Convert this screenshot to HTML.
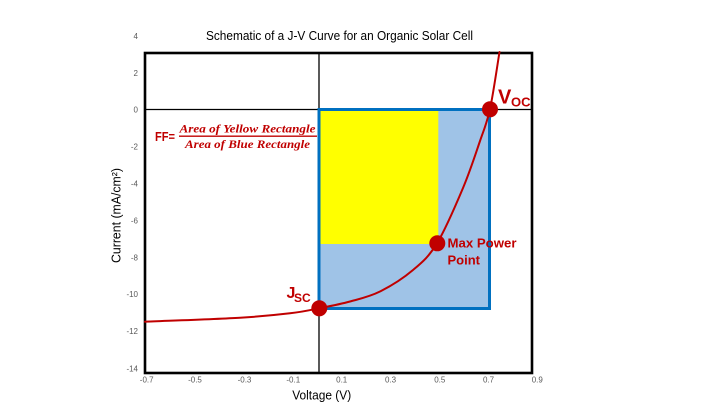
<!DOCTYPE html>
<html><head><meta charset="utf-8"><style>
html,body{margin:0;padding:0;background:#fff;}
svg{display:block;}
</style></head><body>
<svg width="720" height="405" viewBox="0 0 720 405" xmlns="http://www.w3.org/2000/svg">
<rect width="720" height="405" fill="#fff"/>
<!-- title -->
<text x="339.5" y="40" font-family="Liberation Sans, sans-serif" font-size="13" text-anchor="middle" textLength="267" lengthAdjust="spacingAndGlyphs" fill="#000">Schematic of a J-V Curve for an Organic Solar Cell</text>
<!-- axes lines -->
<line x1="145" y1="109.5" x2="532" y2="109.5" stroke="#000" stroke-width="1.3"/>
<line x1="319" y1="53" x2="319" y2="373" stroke="#000" stroke-width="1.3"/>
<!-- rectangles -->
<rect x="319" y="109.5" width="170.5" height="199" fill="#9FC3E7"/>
<rect x="320.5" y="111" width="117.8" height="133" fill="#FFFF00"/>
<rect x="319" y="109.5" width="170.5" height="199" fill="none" stroke="#0070C0" stroke-width="3"/>
<!-- plot box -->
<rect x="145" y="53" width="387" height="320" fill="none" stroke="#000" stroke-width="2.6"/>
<!-- curve -->
<path d="M145,321.7 C160.8,321.0 215.8,319.1 240,317.7 C264.2,316.3 276.8,314.87 290,313.3 C303.2,311.73 309,310.27 319,308.3 C329,306.33 339.83,304.3 350,301.5 C360.17,298.7 369.5,296.75 380,291.5 C390.5,286.25 403.5,278.03 413,270 C422.5,261.97 428.67,256.97 437,243.3 C445.33,229.63 455.83,205.05 463,188 C470.17,170.95 475.5,154.17 480,141 C484.5,127.83 486.75,123.83 490,109 C493.25,94.17 497.9,61.5 499.5,52" fill="none" stroke="#C00000" stroke-width="2" stroke-linejoin="round" stroke-linecap="round"/>
<!-- dots -->
<circle cx="319.3" cy="308.3" r="8" fill="#C00000"/>
<circle cx="437.3" cy="243.3" r="8" fill="#C00000"/>
<circle cx="490" cy="109.3" r="8" fill="#C00000"/>
<!-- labels -->
<g font-family="Liberation Sans, sans-serif" font-weight="bold" fill="#C00000">
<text x="498" y="103.5" font-size="20">V</text>
<text x="511" y="106.5" font-size="13">OC</text>
<text x="286.5" y="298" font-size="16">J</text>
<text x="294" y="302" font-size="12">SC</text>
<text x="447.5" y="247.4" font-size="13" textLength="69" lengthAdjust="spacingAndGlyphs">Max Power</text>
<text x="447.5" y="264.7" font-size="13">Point</text>
<text x="155" y="141" font-size="13" textLength="20" lengthAdjust="spacingAndGlyphs">FF=</text>
</g>
<g font-family="Liberation Serif, serif" font-weight="bold" font-style="italic" fill="#C00000" font-size="11.5">
<text x="179.5" y="132.5" textLength="136" lengthAdjust="spacingAndGlyphs">Area of Yellow Rectangle</text>
<text x="185" y="148" textLength="125" lengthAdjust="spacingAndGlyphs">Area of Blue Rectangle</text>
</g>
<line x1="179" y1="136.2" x2="317" y2="136.2" stroke="#C00000" stroke-width="1.3"/>
<!-- y tick labels -->
<g font-family="Liberation Sans, sans-serif" font-size="8" fill="#595959" text-anchor="end">
<text x="138" y="39">4</text>
<text x="138" y="76">2</text>
<text x="138" y="112.5">0</text>
<text x="138" y="149.5">-2</text>
<text x="138" y="186.5">-4</text>
<text x="138" y="223.5">-6</text>
<text x="138" y="260.5">-8</text>
<text x="138" y="297">-10</text>
<text x="138" y="334">-12</text>
<text x="138" y="371.3">-14</text>
</g>
<!-- x tick labels -->
<g font-family="Liberation Sans, sans-serif" font-size="8" fill="#595959" text-anchor="middle">
<text x="146.7" y="382.3">-0.7</text>
<text x="195" y="382.3">-0.5</text>
<text x="244.5" y="382.3">-0.3</text>
<text x="293.3" y="382.3">-0.1</text>
<text x="341.7" y="382.3">0.1</text>
<text x="390.5" y="382.3">0.3</text>
<text x="439.8" y="382.3">0.5</text>
<text x="488.5" y="382.3">0.7</text>
<text x="537.3" y="382.3">0.9</text>
</g>
<!-- axis titles -->
<text x="321.7" y="399.5" font-family="Liberation Sans, sans-serif" font-size="13" text-anchor="middle" textLength="59" lengthAdjust="spacingAndGlyphs" fill="#000">Voltage (V)</text>
<text transform="translate(120.5,215.5) rotate(-90)" x="0" y="0" font-family="Liberation Sans, sans-serif" font-size="13" text-anchor="middle" textLength="95" lengthAdjust="spacingAndGlyphs" fill="#000">Current (mA/cm²)</text>
</svg>
</body></html>
